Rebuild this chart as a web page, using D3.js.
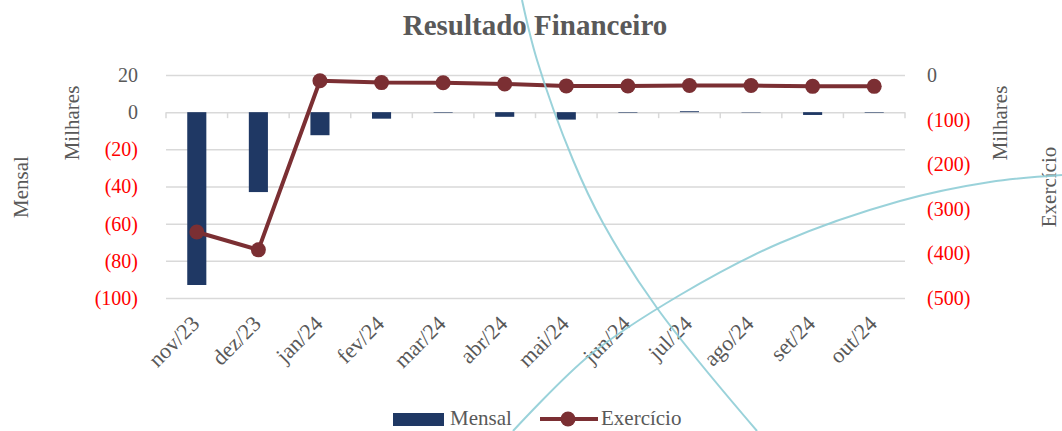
<!DOCTYPE html>
<html>
<head>
<meta charset="utf-8">
<script src="https://cdn.jsdelivr.net/npm/d3@7"></script>
<style>
  body { margin: 0; background: #fff; }
  text { font-family: "Liberation Serif", "DejaVu Serif", serif; }
</style>
</head>
<body>
<script>
// chart data
var months = ['nov/23', 'dez/23', 'jan/24', 'fev/24', 'mar/24', 'abr/24',
              'mai/24', 'jun/24', 'jul/24', 'ago/24', 'set/24', 'out/24'];
var mensal = [-93, -43, -12.4, -3.5, -0.3, -2.5, -4, -0.3, 0.5, -0.2, -1.5, -0.3];
var exercicio = [-352, -392, -13, -17, -17.5, -20, -24.5, -24.8, -23.5, -23.5, -25.5, -25.5];
var leftTicks = [20, 0, -20, -40, -60, -80, -100];
var rightTicks = [0, -100, -200, -300, -400, -500];

var w = 1062, h = 431;
var gray = '#595959', red = '#ff0000';
var barColor = '#1f3864', lineColor = '#7b2f33';

var svg = d3.select('body').append('svg')
    .attr('width', w)
    .attr('height', h);

var x = d3.scaleBand().domain(months).range([166, 905]);
var yL = d3.scaleLinear().domain([-100, 20]).range([298, 75]);
var yR = d3.scaleLinear().domain([-500, 0]).range([298, 75]);

// number format: negatives in parentheses
function fmt(d) {
    return d < 0 ? '(' + Math.abs(d) + ')' : String(d);
}

// gridlines
var grid = svg.append('g')
    .attr('class', 'grid')
    .attr('transform', 'translate(166,0)')
    .call(d3.axisLeft(yL).tickValues(leftTicks).tickSize(-739).tickFormat(''));
grid.select('.domain').remove();
grid.selectAll('line').attr('stroke', '#d9d9d9').attr('stroke-width', 1.5);

// category ticks on zero line
var bounds = months.map(function (m) { return x(m); }).concat([x.range()[1]]);
svg.selectAll('.xtick')
    .data(bounds)
    .enter()
    .append('line')
    .attr('class', 'xtick')
    .attr('x1', function (d) { return d; })
    .attr('x2', function (d) { return d; })
    .attr('y1', yL(0))
    .attr('y2', yL(0) + 6)
    .attr('stroke', '#d9d9d9')
    .attr('stroke-width', 1.5);

// bars
var bw = x.bandwidth() * 0.31;
svg.selectAll('.bar')
    .data(mensal)
    .enter()
    .append('rect')
    .attr('class', 'bar')
    .attr('x', function (d, i) { return x(months[i]) + x.bandwidth() / 2 - bw / 2; })
    .attr('y', function (d) { return Math.min(yL(d), yL(0)); })
    .attr('width', bw)
    .attr('height', function (d) { return Math.abs(yL(d) - yL(0)); })
    .attr('fill', barColor);

// line
var line = d3.line()
    .x(function (d, i) { return x(months[i]) + x.bandwidth() / 2; })
    .y(function (d) { return yR(d); });

svg.append('path')
    .datum(exercicio)
    .attr('d', line)
    .attr('fill', 'none')
    .attr('stroke', lineColor)
    .attr('stroke-width', 4)
    .attr('stroke-linejoin', 'round');

svg.selectAll('.dot')
    .data(exercicio)
    .enter()
    .append('circle')
    .attr('class', 'dot')
    .attr('cx', function (d, i) { return x(months[i]) + x.bandwidth() / 2; })
    .attr('cy', function (d) { return yR(d); })
    .attr('r', 7.5)
    .attr('fill', lineColor);

// left axis labels
var axL = svg.append('g')
    .attr('transform', 'translate(138,0)')
    .call(d3.axisLeft(yL).tickValues(leftTicks).tickSize(0).tickPadding(0).tickFormat(fmt));
axL.select('.domain').remove();
axL.selectAll('text')
    .attr('font-size', 20)
    .attr('font-family', '"Liberation Serif", serif')
    .attr('fill', function (d) { return d < 0 ? red : gray; });

// right axis labels
var axR = svg.append('g')
    .attr('transform', 'translate(927,0)')
    .call(d3.axisRight(yR).tickValues(rightTicks).tickSize(0).tickPadding(0).tickFormat(fmt));
axR.select('.domain').remove();
axR.selectAll('text')
    .attr('font-size', 20)
    .attr('font-family', '"Liberation Serif", serif')
    .attr('fill', function (d) { return d < 0 ? red : gray; });

// x labels
svg.selectAll('.xlabel')
    .data(months)
    .enter()
    .append('text')
    .attr('class', 'xlabel')
    .attr('text-anchor', 'end')
    .attr('font-size', 22)
    .attr('fill', gray)
    .attr('transform', function (d) {
        return 'translate(' + (x(d) + x.bandwidth() / 2 + 4) + ',325) rotate(-45)';
    })
    .text(function (d) { return d; });

// axis titles
function vtitle(t, cx, cy) {
    svg.append('text')
        .attr('text-anchor', 'middle')
        .attr('font-size', 21)
        .attr('fill', gray)
        .attr('transform', 'translate(' + cx + ',' + cy + ') rotate(-90)')
        .text(t);
}
vtitle('Mensal', 28, 187);
vtitle('Milhares', 79, 123);
vtitle('Milhares', 1007, 123);
vtitle('Exercício', 1056, 187);

// title
svg.append('text')
    .attr('x', 535)
    .attr('y', 35)
    .attr('text-anchor', 'middle')
    .attr('font-size', 29)
    .attr('font-weight', 'bold')
    .attr('fill', gray)
    .text('Resultado Financeiro');

// legend
var lg = svg.append('g').attr('class', 'legend');
lg.append('rect')
    .attr('x', 393).attr('y', 413).attr('width', 51).attr('height', 13)
    .attr('fill', barColor);
lg.append('text')
    .attr('x', 450).attr('y', 425).attr('font-size', 21).attr('fill', gray)
    .text('Mensal');
lg.append('line')
    .attr('x1', 540).attr('x2', 598).attr('y1', 419).attr('y2', 419)
    .attr('stroke', lineColor).attr('stroke-width', 4);
lg.append('circle')
    .attr('cx', 568).attr('cy', 419).attr('r', 7.5).attr('fill', lineColor);
lg.append('text')
    .attr('x', 601).attr('y', 425).attr('font-size', 21).attr('fill', gray)
    .text('Exercício');

// decorative cyan arcs seen over the picture
var arcLine = d3.line().curve(d3.curveCatmullRom);
var arc1 = [[522, 0], [537, 60], [573, 160], [603, 223], [657, 308], [757, 431]];
var arc2 = [[513, 431], [590, 355], [680, 295], [780, 243], [900, 201], [990, 182], [1062, 175]];
[arc1, arc2].forEach(function (pts) {
    svg.append('path')
        .attr('d', arcLine(pts))
        .attr('fill', 'none')
        .attr('stroke', '#8fcdd6')
        .attr('stroke-width', 2)
        .attr('opacity', 0.9);
});
</script>
</body>
</html>
